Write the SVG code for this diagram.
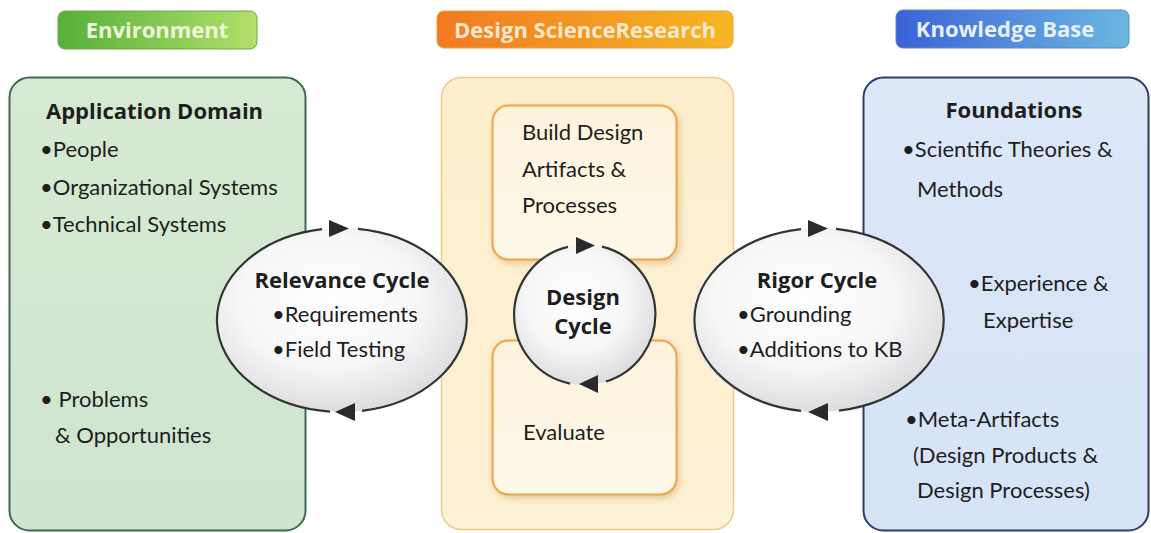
<svg xmlns="http://www.w3.org/2000/svg" width="1151" height="533" viewBox="0 0 1151 533">
<defs>
<linearGradient id="gGreen" x1="0" y1="0" x2="1" y2="0"><stop offset="0" stop-color="#55b03a"/><stop offset="1" stop-color="#b2e06a"/></linearGradient>
<linearGradient id="gOrange" x1="0" y1="0" x2="1" y2="0"><stop offset="0" stop-color="#f27a22"/><stop offset="1" stop-color="#f6b622"/></linearGradient>
<linearGradient id="gBlue" x1="0" y1="0" x2="1" y2="0"><stop offset="0" stop-color="#3a63d6"/><stop offset="1" stop-color="#6cb8e2"/></linearGradient>
<linearGradient id="gEnv" x1="0" y1="0" x2="0" y2="1"><stop offset="0" stop-color="#d6e9d3"/><stop offset="1" stop-color="#cfe5cf"/></linearGradient>
<linearGradient id="gDsr" x1="0" y1="0" x2="0" y2="1"><stop offset="0" stop-color="#fdefcb"/><stop offset="1" stop-color="#fdf1d6"/></linearGradient>
<linearGradient id="gKb" x1="0" y1="0" x2="0" y2="1"><stop offset="0" stop-color="#dce7f8"/><stop offset="1" stop-color="#d6e3f6"/></linearGradient>
<linearGradient id="gInner" x1="0" y1="0" x2="0" y2="1"><stop offset="0" stop-color="#fdf3dc"/><stop offset="1" stop-color="#fef8ea"/></linearGradient>
<radialGradient id="gCyc" cx="0.45" cy="0.4" r="0.65"><stop offset="0" stop-color="#ffffff"/><stop offset="0.55" stop-color="#f7f7f8"/><stop offset="1" stop-color="#d8d8dc"/></radialGradient>
<filter id="sh" x="-10%" y="-10%" width="130%" height="130%"><feDropShadow dx="2" dy="3" stdDeviation="3" flood-color="#c08030" flood-opacity="0.35"/></filter>
</defs>
<style>
text{font-family:Lato,"Open Sans","Liberation Sans",sans-serif;fill:#1e1e1e}
.hd{font-family:"Open Sans",Lato,sans-serif;font-size:22px;font-weight:bold;text-anchor:middle}
.b{font-family:"Open Sans",Lato,sans-serif;font-size:22px;font-weight:bold}
.t{font-size:22px}
.cyc{stroke:#333;stroke-width:2.2;fill:none}
.arr{fill:#2a2a2a}
</style>

<g id="hdr-environment">
<rect x="58" y="11" width="199" height="38" rx="7" fill="url(#gGreen)" stroke="#6aa84a" stroke-width="1"/>
<text class="hd" x="157" y="38" style="fill:#eef7dc">Environment</text>
</g>
<g id="hdr-dsr">
<rect x="437" y="11" width="296" height="37" rx="7" fill="url(#gOrange)" stroke="#e8a040" stroke-width="1"/>
<text class="hd" x="585" y="38" style="fill:#fce9cc">Design ScienceResearch</text>
</g>
<g id="hdr-kb">
<rect x="896" y="10" width="233" height="38" rx="7" fill="url(#gBlue)" stroke="#5a88c8" stroke-width="1"/>
<text class="hd" x="1005" y="37" style="fill:#e8f0fa">Knowledge Base</text>
</g>

<g id="environment">
<rect x="9.5" y="77.5" width="296" height="453" rx="20" fill="url(#gEnv)" stroke="#3d6b52" stroke-width="2"/>
<text class="b" x="46" y="119">Application Domain</text>
<text class="t" x="40" y="157">•People</text>
<text class="t" x="40" y="195">•Organizational Systems</text>
<text class="t" x="40" y="232">•Technical Systems</text>
<text class="t" x="40" y="407">• Problems</text>
<text class="t" x="55" y="443">&amp; Opportunities</text>
</g>

<g id="dsr">
<rect x="441.5" y="77.5" width="292" height="452" rx="20" fill="url(#gDsr)" stroke="#f0c98a" stroke-width="1.5"/>
</g>
<g id="build">
<rect x="492.5" y="105.5" width="184" height="154" rx="16" fill="url(#gInner)" stroke="#f0a448" stroke-width="2" filter="url(#sh)"/>
<text class="t" x="522" y="140">Build Design</text>
<text class="t" x="522" y="177">Artifacts &amp;</text>
<text class="t" x="522" y="213">Processes</text>
</g>
<g id="evaluate">
<rect x="492.5" y="340.5" width="184" height="154" rx="16" fill="url(#gInner)" stroke="#f0a448" stroke-width="2" filter="url(#sh)"/>
<text class="t" x="523" y="440">Evaluate</text>
</g>

<g id="kb">
<rect x="863.5" y="77.5" width="285" height="453" rx="20" fill="url(#gKb)" stroke="#2f3d63" stroke-width="2"/>
<text class="b" x="1014" y="118" text-anchor="middle">Foundations</text>
<text class="t" x="902" y="157">•Scientific Theories &amp;</text>
<text class="t" x="917" y="197">Methods</text>
<text class="t" x="968" y="291">•Experience &amp;</text>
<text class="t" x="983" y="328">Expertise</text>
<text class="t" x="905" y="427">•Meta-Artifacts</text>
<text class="t" x="913" y="463">(Design Products &amp;</text>
<text class="t" x="917" y="498">Design Processes)</text>
</g>

<g id="relevance-cycle">
<ellipse cx="342" cy="320" rx="125" ry="92" fill="url(#gCyc)"/>
<text class="b" x="342" y="288" text-anchor="middle">Relevance Cycle</text>
<text class="t" x="272" y="322">•Requirements</text>
<text class="t" x="272" y="357">•Field Testing</text>
</g>
<g id="design-cycle">
<circle cx="584" cy="315" r="70" fill="url(#gCyc)"/>
<text class="b" x="583" y="305" text-anchor="middle">Design</text>
<text class="b" x="583" y="334" text-anchor="middle">Cycle</text>
</g>
<g id="rigor-cycle">
<ellipse cx="817" cy="320" rx="126" ry="92" fill="url(#gCyc)"/>
<text class="b" x="817" y="288" text-anchor="middle">Rigor Cycle</text>
<text class="t" x="737" y="322">•Grounding</text>
<text class="t" x="737" y="357">•Additions to KB</text>
</g>

<g id="connectors">
<path class="cyc" d="M358 228.8 A125 92 0 0 1 362 410.8"/>
<path class="cyc" d="M330 411.6 A125 92 0 0 1 322 229.2"/>
<polygon class="arr" points="329,220 349,228.5 329,237"/>
<polygon class="arr" points="355,403 335,412 355,421"/>

<path class="cyc" d="M602 246.6 A70 70 0 0 1 606 381.5"/>
<path class="cyc" d="M570 383.6 A70 70 0 0 1 568 246.9"/>
<polygon class="arr" points="576,237 595,245.5 576,254"/>
<polygon class="arr" points="598,375 579,384 598,393"/>

<path class="cyc" d="M836 228.9 A126 92 0 0 1 839 410.6"/>
<path class="cyc" d="M801 410.9 A126 92 0 0 1 801 229.1"/>
<polygon class="arr" points="808,220 828,228.5 808,237"/>
<polygon class="arr" points="828,403 808,412 828,421"/>
</g>
</svg>
